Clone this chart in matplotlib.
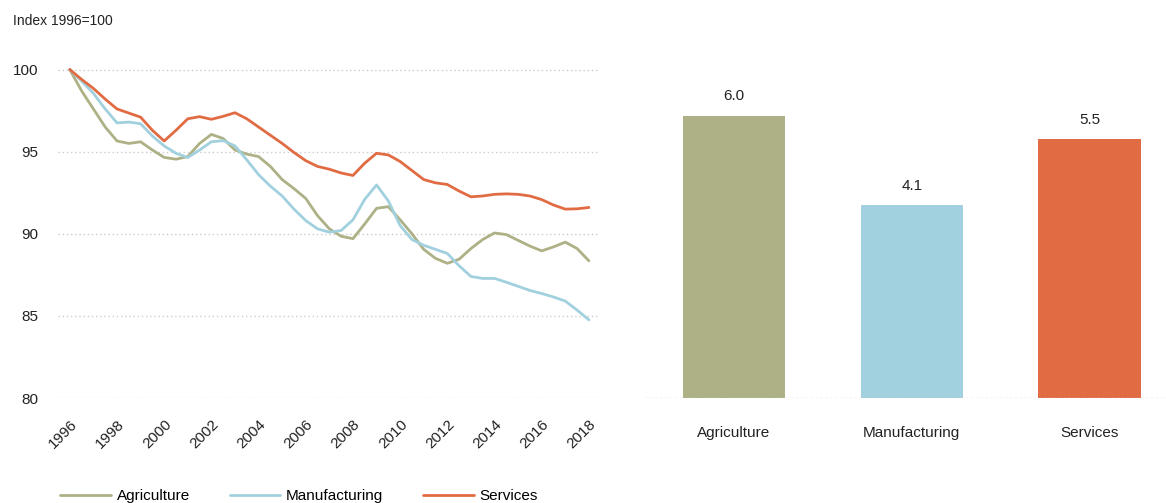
import matplotlib
matplotlib.use("Agg")
from matplotlib import pyplot as plt

plt.rcParams['font.family'] = ['Liberation Sans', 'DejaVu Sans']

# half-year readings
years = [1996 + 0.5 * i for i in range(45)]
agriculture = [100, 98.7, 97.6, 96.5, 95.65, 95.5, 95.6, 95.1, 94.65, 94.54,
               94.7, 95.5, 96.05, 95.8, 95.1, 94.85, 94.7, 94.1, 93.3, 92.75,
               92.15, 91.1, 90.3, 89.85, 89.7, 90.6, 91.55, 91.65, 90.85, 90.0,
               89.05, 88.5, 88.2, 88.45, 89.1, 89.65, 90.05, 89.95, 89.6, 89.25,
               88.96, 89.2, 89.49, 89.1, 88.35]
manufacturing = [100, 99.3, 98.55, 97.6, 96.75, 96.8, 96.7, 95.95, 95.35, 94.9,
                 94.64, 95.1, 95.6, 95.67, 95.35, 94.5, 93.6, 92.9, 92.3, 91.5,
                 90.8, 90.3, 90.1, 90.2, 90.85, 92.1, 92.97, 92.0, 90.5, 89.65,
                 89.3, 89.05, 88.8, 88.05, 87.4, 87.28, 87.28, 87.05, 86.8, 86.55,
                 86.36, 86.15, 85.9, 85.35, 84.76]
services = [100, 99.4, 98.85, 98.2, 97.6, 97.35, 97.1, 96.3, 95.65, 96.3,
            97.0, 97.13, 96.97, 97.15, 97.37, 97.0, 96.5, 96.0, 95.5, 94.95,
            94.45, 94.1, 93.93, 93.7, 93.55, 94.3, 94.9, 94.8, 94.4, 93.85,
            93.3, 93.1, 93.0, 92.6, 92.25, 92.3, 92.4, 92.43, 92.4, 92.3,
            92.08, 91.75, 91.5, 91.52, 91.6]

sectors = ["Agriculture", "Manufacturing", "Services"]
declines = [6.0, 4.1, 5.5]
colors = ["#AEB185", "#A1D0DE", "#E16C44"]

W, H = 1166, 503
fig = plt.figure(figsize=(W / 100, H / 100), dpi=100)

# left panel: index lines
ax = fig.add_axes([58 / W, 1 - 398 / H, 542 / W, 338 / H])
for vals, name, c in zip([agriculture, manufacturing, services], sectors, colors):
    ax.plot(years, vals, color=c, lw=2.0, label=name,
            solid_capstyle='round', solid_joinstyle='round')
ax.set_xlim(1995.5, 2018.47)
ax.set_ylim(80, 100.58)
ax.set_yticks([80, 85, 90, 95, 100])
ax.set_xticks(range(1996, 2019, 2))
ax.set_xticklabels([str(y) for y in range(1996, 2019, 2)], rotation=45,
                   ha='right', rotation_mode='anchor')
ax.grid(axis='y', color='#cccccc', ls=(0, (1, 2)), lw=1)
ax.set_axisbelow(True)
for s in ax.spines.values():
    s.set_visible(False)
ax.tick_params(axis='both', length=0, labelsize=11, colors='#222222')
ax.tick_params(axis='y', pad=14)
ax.tick_params(axis='x', pad=14)
fig.text(13 / W, 1 - 21 / H, "Index 1996=100", fontsize=10, va='center',
         ha='left', color='#222222')

fig.legend(loc='center left', bbox_to_anchor=(54 / W, 1 - 496 / H), ncol=3,
           frameon=False, fontsize=11, handlelength=3.3, columnspacing=2.6,
           handletextpad=0.4, borderaxespad=0)

# right panel: bars
bx = fig.add_axes([645 / W, 1 - 398 / H, 521 / W, 338 / H])
pos = list(range(len(sectors)))
bars = bx.bar(pos, declines, width=0.575, color=colors, zorder=1)
for b, v in zip(bars, declines):
    bx.annotate(f"{v:.1f}", (b.get_x() + b.get_width() / 2, v),
                xytext=(0, 9), textcoords='offset points', ha='center',
                va='bottom', fontsize=11, color='#222222')
bx.axhline(0, color='#c4c4c4', ls=(0, (1.5, 2)), lw=1, zorder=2)
bx.set_xlim(-0.5, 2.43)
bx.set_ylim(0, 7.19)
bx.set_xticks(pos)
bx.set_xticklabels(sectors)
bx.set_yticks([])
for s in bx.spines.values():
    s.set_visible(False)
bx.tick_params(axis='x', length=0, labelsize=11, pad=20, colors='#222222')

fig.savefig("out.png", dpi=100)
